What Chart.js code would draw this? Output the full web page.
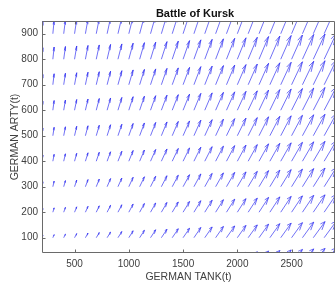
<!DOCTYPE html>
<html>
<head>
<meta charset="utf-8">
<script src="https://cdn.jsdelivr.net/npm/chart.js@4.4.0/dist/chart.umd.min.js"></script>
<style>
  html, body { margin: 0; padding: 0; background: #fff; }
</style>
</head>
<body>
<canvas id="c" width="336" height="284"></canvas>
<script>
// Battle of Kursk - quiver field (tank vs artillery)
const chartTitle = 'Battle of Kursk';
const xLabel = 'GERMAN TANK(t)';
const yLabel = 'GERMAN ARTY(t)';

const xTicks = [500, 1000, 1500, 2000, 2500];
const yTicks = [100, 200, 300, 400, 500, 600, 700, 800, 900];

// arrow tails
const gridX = [200, 300, 400, 500, 600, 700, 800, 900, 1000, 1100, 1200, 1300, 1400, 1500,
               1600, 1700, 1800, 1900, 2000, 2100, 2200, 2300, 2400, 2500, 2600, 2700, 2800, 2900];
const gridY = [0, 100, 200, 300, 400, 500, 600, 700, 800, 900];

// horizontal component of each arrow (same down every column)
const arrowU = [8, 12, 16, 20, 24, 28, 32, 36, 40, 44, 48, 52, 56, 60,
                64, 68, 72, 76, 80, 84, 88, 92, 96, 100, 104, 108, 112, 116];

// vertical component, one row per gridY value
const arrowV = [
  [4, 7, 9, 11, 13, 15, 17, 19, 22, 24, 26, 28, 30, 32, 35, 37, 39, 41, 43, 45, 48, 50, 52, 54, 56, 58, 60, 63],
  [9, 12, 14, 16, 18, 20, 22, 24, 27, 29, 31, 33, 35, 37, 40, 42, 44, 46, 48, 50, 53, 55, 57, 59, 61, 63, 65, 68],
  [14, 17, 19, 21, 23, 25, 27, 29, 32, 34, 36, 38, 40, 42, 45, 47, 49, 51, 53, 55, 58, 60, 62, 64, 66, 68, 70, 73],
  [19, 22, 24, 26, 28, 30, 32, 34, 37, 39, 41, 43, 45, 47, 50, 52, 54, 56, 58, 60, 63, 65, 67, 69, 71, 73, 75, 78],
  [24, 27, 29, 31, 33, 35, 37, 39, 42, 44, 46, 48, 50, 52, 55, 57, 59, 61, 63, 65, 68, 70, 72, 74, 76, 78, 80, 83],
  [30, 33, 35, 37, 39, 41, 43, 45, 48, 50, 52, 54, 56, 58, 61, 63, 65, 67, 69, 71, 74, 76, 78, 80, 82, 84, 86, 89],
  [35, 38, 40, 42, 44, 46, 48, 50, 53, 55, 57, 59, 61, 63, 66, 68, 70, 72, 74, 76, 79, 81, 83, 85, 87, 89, 91, 94],
  [40, 43, 45, 47, 49, 51, 53, 55, 58, 60, 62, 64, 66, 68, 71, 73, 75, 77, 79, 81, 84, 86, 88, 90, 92, 94, 96, 99],
  [45, 48, 50, 52, 54, 56, 58, 60, 63, 65, 67, 69, 71, 73, 76, 78, 80, 82, 84, 86, 89, 91, 93, 95, 97, 99, 101, 104],
  [50, 53, 55, 57, 59, 61, 63, 65, 68, 70, 72, 74, 76, 78, 81, 83, 85, 87, 89, 91, 94, 96, 98, 100, 102, 104, 106, 109]
];

const FONT = '"Liberation Sans", Arial, Helvetica, sans-serif';

// Draw the arrows through the chart scales (MATLAB quiver style heads)
const quiverPlugin = {
    id: 'quiver',
    afterDatasetsDraw(chart) {
        const { ctx, chartArea: area, scales: { x, y } } = chart;
        const alpha = 0.33, beta = 0.33;
        ctx.save();
        ctx.beginPath();
        ctx.rect(area.left, area.top, area.right - area.left, area.bottom - area.top);
        ctx.clip();
        ctx.strokeStyle = '#3434f0';
        ctx.lineWidth = 0.7;
        ctx.lineJoin = 'miter';
        ctx.beginPath();
        gridY.forEach((y0, r) => {
            gridX.forEach((x0, c) => {
                const u = arrowU[c];
                const v = arrowV[r][c];
                const x1 = x0 + u, y1 = y0 + v;
                ctx.moveTo(x.getPixelForValue(x0), y.getPixelForValue(y0));
                ctx.lineTo(x.getPixelForValue(x1), y.getPixelForValue(y1));
                const hx1 = x1 - alpha * (u + beta * v), hy1 = y1 - alpha * (v - beta * u);
                const hx2 = x1 - alpha * (u - beta * v), hy2 = y1 - alpha * (v + beta * u);
                ctx.moveTo(x.getPixelForValue(hx1), y.getPixelForValue(hy1));
                ctx.lineTo(x.getPixelForValue(x1), y.getPixelForValue(y1));
                ctx.lineTo(x.getPixelForValue(hx2), y.getPixelForValue(hy2));
            });
        });
        ctx.stroke();
        ctx.restore();
    }
};

// Axes box with inward ticks, plus title
const boxPlugin = {
    id: 'box',
    afterDraw(chart) {
        const { ctx, chartArea: a, scales: { x, y } } = chart;
        const L = Math.round(a.left) + 0.5, R = Math.round(a.right) - 0.5;
        const T = Math.round(a.top) + 0.5, B = Math.round(a.bottom) - 0.5;
        ctx.save();
        ctx.strokeStyle = '#6a6a6a';
        ctx.lineWidth = 1;
        ctx.beginPath();
        ctx.moveTo(L, T); ctx.lineTo(L, B); ctx.lineTo(R, B); ctx.lineTo(R, T); ctx.lineTo(L, T);
        const tl = 3;
        xTicks.forEach(v => {
            const px = Math.round(x.getPixelForValue(v)) + 0.5;
            ctx.moveTo(px, B); ctx.lineTo(px, B - tl);
            ctx.moveTo(px, T); ctx.lineTo(px, T + tl);
        });
        yTicks.forEach(v => {
            const py = Math.round(y.getPixelForValue(v)) + 0.5;
            ctx.moveTo(L, py); ctx.lineTo(L + tl, py);
            ctx.moveTo(R, py); ctx.lineTo(R - tl, py);
        });
        ctx.stroke();

        ctx.fillStyle = '#111';
        ctx.font = 'bold 11px ' + FONT;
        ctx.textAlign = 'center';
        ctx.textBaseline = 'middle';
        ctx.fillText(chartTitle, 195, 14);
        ctx.restore();
    }
};

const tails = [];
gridY.forEach(yv => gridX.forEach(xv => tails.push({ x: xv, y: yv })));

new Chart(document.getElementById('c').getContext('2d'), {
    type: 'scatter',
    data: {
        datasets: [{ data: tails, pointRadius: 0, showLine: false }]
    },
    options: {
        responsive: false,
        animation: false,
        devicePixelRatio: 1,
        layout: { padding: { top: 21, right: 1, left: 0, bottom: 0 } },
        plugins: {
            legend: { display: false },
            tooltip: { enabled: false }
        },
        scales: {
            x: {
                type: 'linear',
                min: 200,
                max: 2900,
                afterBuildTicks: s => { s.ticks = xTicks.map(v => ({ value: v })); },
                afterFit: s => { s.height = 31; },
                grid: { display: false, drawTicks: false },
                border: { display: false },
                ticks: {
                    padding: 5,
                    autoSkip: false,
                    maxRotation: 0,
                    color: '#404040',
                    font: { family: FONT, size: 10 },
                    callback: v => String(v)
                },
                title: {
                    display: true,
                    text: xLabel,
                    color: '#404040',
                    font: { family: FONT, size: 10.5 },
                    padding: { top: 0, bottom: 1 }
                }
            },
            y: {
                type: 'linear',
                min: 40,
                max: 950,
                afterBuildTicks: s => { s.ticks = yTicks.map(v => ({ value: v })); },
                afterFit: s => { s.width = 42; },
                grid: { display: false, drawTicks: false },
                border: { display: false },
                ticks: {
                    padding: 4,
                    autoSkip: false,
                    color: '#404040',
                    font: { family: FONT, size: 10 },
                    callback: v => String(v)
                },
                title: {
                    display: true,
                    text: yLabel,
                    color: '#404040',
                    font: { family: FONT, size: 10.5 },
                    padding: { top: 9, bottom: 0 }
                }
            }
        }
    },
    plugins: [quiverPlugin, boxPlugin]
});
</script>
</body>
</html>
